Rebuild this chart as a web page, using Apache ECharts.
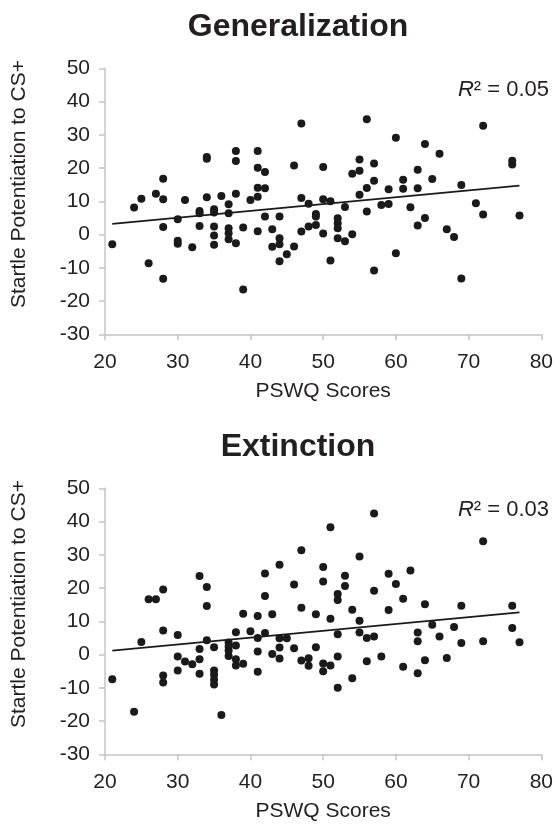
<!DOCTYPE html>
<html>
<head>
<meta charset="utf-8">
<script src="https://cdn.jsdelivr.net/npm/echarts/dist/echarts.min.js"></script>
<style>
html,body{margin:0;padding:0;background:#fff;}
#chart{width:556px;height:829px;}
</style>
</head>
<body>
<div id="chart"></div>
<script>
// ---- Data ----
const xTicks = [20, 30, 40, 50, 60, 70, 80];
const yTicks = [-30, -20, -10, 0, 10, 20, 30, 40, 50];

const genX = [21,24,25,26,27,28,28,28,28,30,30,30,31,32,33,33,33,34,34,34,35,35,35,35,35,36,37,37,37,37,37,38,38,38,38,39,39,40,41,41,41,41,41,42,42,42,43,43,44,44,44,44,45,46,46,47,47,47,48,48,49,49,49,50,50,50,51,51,52,52,52,52,53,53,54,54,55,55,55,56,56,56,57,57,57,58,59,59,60,60,61,61,62,63,63,63,64,64,65,66,67,68,69,69,71,72,72,76,76,77];
const genY = [-2.9,8.1,10.8,-8.6,12.3,16.8,10.6,2.3,-13.3,4.6,-1.9,-2.8,10.4,-3.8,7.1,6.4,2.6,22.8,23.3,11.2,7.6,6.6,2.4,-0.3,-3.1,11.6,9.1,6.4,1.9,0.4,-1.4,25.1,22.1,12.3,-2.6,2.1,-16.5,10.4,25.1,20.1,14.1,11.4,1.0,18.8,13.9,5.4,1.6,-3.7,5.4,-1.1,-2.9,-8.0,-5.9,20.8,-3.6,33.4,11.0,0.9,9.3,2.4,6.2,5.4,2.9,20.3,10.6,0.3,10.0,-7.8,4.9,3.4,1.9,-1.1,8.3,-2.0,18.3,0.1,22.6,19.2,12.0,34.7,14.0,6.9,21.4,16.2,-10.8,8.9,13.6,9.2,29.1,-5.6,16.5,13.8,8.2,19.5,13.9,2.7,27.2,5.0,16.7,24.3,1.6,-0.7,14.9,-13.2,9.4,32.7,6.0,22.2,21.1,5.7];
const genTrendX = [21, 77];
const genTrendY = [3.2, 14.7];
const genR2 = '0.05';

const extX = [21,24,25,26,27,28,28,28,28,30,30,30,31,32,33,33,33,33,34,34,34,35,35,35,35,35,36,37,37,37,37,38,38,38,38,39,39,40,41,41,41,41,42,42,42,43,43,44,44,44,44,45,46,46,47,47,47,48,48,49,49,50,50,50,50,51,51,51,52,52,52,52,52,53,53,54,54,55,55,55,56,56,57,57,57,58,59,59,60,61,61,62,63,63,63,64,64,65,66,67,68,69,69,72,72,76,76,77];
const extY = [-7.4,-17.2,3.8,16.6,16.6,19.6,7.2,-6.3,-8.4,5.9,-0.6,-4.8,-2.1,-2.9,23.6,1.7,-1.4,-5.8,20.3,14.6,4.3,2.2,-4.8,-6.1,-7.6,-9.0,-18.2,3.6,2.4,1.2,-0.4,6.7,2.7,-1.4,-3.3,12.3,-2.8,7.0,11.6,5.0,0.9,-5.2,24.4,17.6,6.5,12.1,0.2,27.0,4.9,2.1,-1.2,4.9,21.1,1.9,31.4,14.1,-1.8,-1.1,-3.4,12.1,2.2,26.3,22.0,-2.7,-5.0,38.3,10.8,-3.3,18.2,16.4,6.1,-0.6,-10.0,23.7,20.6,13.5,-7.1,29.5,10.2,6.6,5.0,-2.0,42.4,19.2,5.4,-0.6,24.3,13.4,21.2,16.8,-3.7,25.3,6.6,4.0,-5.6,15.1,-1.7,9.0,5.4,-1.0,8.3,14.7,3.5,34.1,4.0,14.7,8.0,3.7];
const extTrendX = [21, 77];
const extTrendY = [1.2, 12.7];
const extR2 = '0.03';

const titles = ['Generalization', 'Extinction'];
const xName = 'PSWQ Scores';
const yName = 'Startle Potentiation to CS+';

// ---- Build ----
const FONT = "'Liberation Sans', Arial, Helvetica, sans-serif";
const TXT = '#231f20';
const AX = '#c4c4c4';
const zip = (xs, ys) => xs.map((x, i) => [x, ys[i]]);

function xAxisCfg(gi) {
  return {
    gridIndex: gi, type: 'value',
    min: xTicks[0], max: xTicks[xTicks.length - 1], interval: xTicks[1] - xTicks[0],
    name: xName, nameLocation: 'middle', nameGap: 46,
    nameTextStyle: { fontFamily: FONT, fontSize: 21, color: TXT },
    axisLine: { show: true, onZero: false, lineStyle: { color: AX, width: 1.5 } },
    axisTick: { show: true, length: 6, lineStyle: { color: AX, width: 1.5 } },
    axisLabel: { fontFamily: FONT, fontSize: 21, color: TXT, margin: 17 },
    splitLine: { show: false }
  };
}
function yAxisCfg(gi) {
  return {
    gridIndex: gi, type: 'value',
    min: yTicks[0], max: yTicks[yTicks.length - 1], interval: yTicks[1] - yTicks[0],
    axisLine: { show: true, onZero: false, lineStyle: { color: AX, width: 1.5 } },
    axisTick: { show: true, length: 6, lineStyle: { color: AX, width: 1.5 } },
    axisLabel: { fontFamily: FONT, fontSize: 21, color: TXT, margin: 15 },
    splitLine: { show: false }
  };
}
function scatter(gi, xs, ys) {
  return {
    type: 'scatter', xAxisIndex: gi, yAxisIndex: gi,
    data: zip(xs, ys), symbolSize: 8,
    itemStyle: { color: '#1a1a1a', opacity: 1 }, silent: true
  };
}
function trend(gi, xs, ys) {
  return {
    type: 'line', xAxisIndex: gi, yAxisIndex: gi,
    data: zip(xs, ys), showSymbol: false, symbol: 'none',
    lineStyle: { color: '#1a1a1a', width: 1.8 }, silent: true, z: 3
  };
}
function r2Text(value, top) {
  return {
    type: 'text', right: 7, top: top,
    style: {
      text: '{i|R}² = ' + value,
      font: '22px ' + FONT, fill: TXT,
      rich: { i: { fontStyle: 'italic', fontFamily: FONT, fontSize: 22, fill: TXT, color: TXT } }
    }
  };
}
function titleText(t, y) {
  return { type: 'text', x: 298, y: y, style: { text: t, font: 'bold 32px ' + FONT, fill: TXT, textAlign: 'center', textVerticalAlign: 'middle' } };
}
function yNameText(y) {
  return { type: 'text', x: 19, y: y, rotation: Math.PI / 2,
    style: { text: yName, font: '21px ' + FONT, fill: TXT, textAlign: 'center', textVerticalAlign: 'middle' } };
}

const chart = echarts.init(document.getElementById('chart'), null, { renderer: 'canvas' });
chart.setOption({
  animation: false,
  backgroundColor: '#ffffff',
  grid: [
    { left: 105, right: 12.5, top: 68.3, height: 266 },
    { left: 105, right: 12.5, top: 488.3, height: 266 }
  ],
  xAxis: [xAxisCfg(0), xAxisCfg(1)],
  yAxis: [yAxisCfg(0), yAxisCfg(1)],
  series: [
    scatter(0, genX, genY), trend(0, genTrendX, genTrendY),
    scatter(1, extX, extY), trend(1, extTrendX, extTrendY)
  ],
  graphic: [
    titleText(titles[0], 27),
    titleText(titles[1], 447),
    yNameText(184),
    yNameText(604),
    r2Text(genR2, 79),
    r2Text(extR2, 499)
  ]
});
</script>
</body>
</html>
